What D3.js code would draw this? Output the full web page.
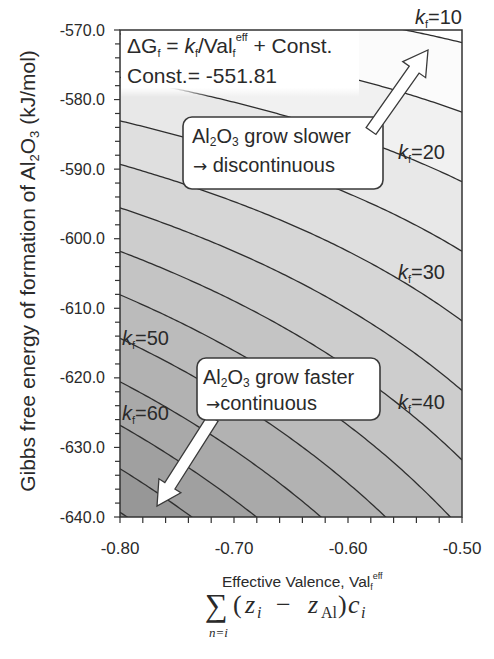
<!DOCTYPE html>
<html><head><meta charset="utf-8">
<script src="https://cdn.jsdelivr.net/npm/d3@7"></script>
<style>
body{margin:0;background:#fff}
svg{display:block}
text{font-family:"Liberation Sans",Arial,Helvetica,sans-serif;fill:#2a2a2a}
.serif{font-family:"Liberation Serif","DejaVu Serif","Times New Roman",serif}
.arr{font-family:"DejaVu Sans",sans-serif}
</style>
</head><body>
<svg id="chart" width="494" height="659"></svg>
<script>
// ---------- data ----------
const xTickValues = [-0.80, -0.70, -0.60, -0.50];
const xTickLabels = ["-0.80", "-0.70", "-0.60", "-0.50"];
const yTickValues = [-570, -580, -590, -600, -610, -620, -630, -640];
const yTickLabels = ["-570.0", "-580.0", "-590.0", "-600.0", "-610.0", "-620.0", "-630.0", "-640.0"];
const formulaConst = -551.81;                       // Const. in ΔG = k/Val + Const.
const contourLevels = [10, 15, 20, 25, 30, 35, 40, 45, 50, 55, 60, 65, 70];
const labelLevels = [10, 20, 30, 40, 50, 60];
const xDomain = [-0.80, -0.50];
const yDomain = [-640, -570];

// ---------- layout ----------
const svg = d3.select("#chart");
const L = 120, R = 462, T = 30, B = 517;
const x = d3.scaleLinear().domain(xDomain).range([L, R]);
const y = d3.scaleLinear().domain(yDomain).range([B, T]);
const G = (k, v) => formulaConst + k / v;

const defs = svg.append("defs");
defs.append("clipPath").attr("id", "plotclip")
  .append("rect").attr("x", L).attr("y", T).attr("width", R - L).attr("height", B - T);
const fade = defs.append("linearGradient").attr("id", "fade")
  .attr("x1", 0).attr("y1", 0).attr("x2", 0).attr("y2", 1);
fade.append("stop").attr("offset", "0").attr("stop-color", "#fff").attr("stop-opacity", 1);
fade.append("stop").attr("offset", "0.86").attr("stop-color", "#fff").attr("stop-opacity", 1);
fade.append("stop").attr("offset", "1").attr("stop-color", "#fff").attr("stop-opacity", 0);

const plot = svg.append("g").attr("clip-path", "url(#plotclip)");
const grid = d3.range(xDomain[0], xDomain[1] + 0.0001, 0.0025);

// bands
const edges = [0, ...contourLevels, 400];
const gray = d3.scaleLinear().domain([5, 12.5, 17.5, 72]).range(["#ffffff", "#fbfbfb", "#f1f1f1", "#8f8f8f"]);
for (let i = 0; i < edges.length - 1; i++) {
  const lo = edges[i], hi = edges[i + 1];
  const mid = i === 0 ? 5 : (i === edges.length - 2 ? 72 : (lo + hi) / 2);
  plot.append("path").datum(grid)
    .attr("d", d3.area().x(v => x(v)).y0(v => y(G(lo, v))).y1(v => y(G(hi, v))))
    .attr("fill", gray(mid)).attr("stroke", "none");
}
// contour lines
const line = k => d3.line().x(v => x(v)).y(v => y(G(k, v)));
contourLevels.forEach(k => {
  plot.append("path").datum(grid).attr("d", line(k))
    .attr("fill", "none").attr("stroke", "#2e2e2e").attr("stroke-width", 1.3);
});

// white area behind formula
plot.append("rect").attr("x", L + 1).attr("y", T + 1).attr("width", 238).attr("height", 66)
  .attr("fill", "url(#fade)");

// ---------- axes ----------
const axisColor = "#333";
const yMinor = d3.range(-640, -569, 2);
const xMinor = d3.range(0, 16).map(i => -0.80 + i * 0.02);
const ax = svg.append("g");
yMinor.forEach(v => {
  const major = Math.abs(v % 10) < 1e-6;
  ax.append("line").attr("x1", L - (major ? 6 : 5)).attr("x2", L).attr("y1", y(v)).attr("y2", y(v))
    .attr("stroke", axisColor).attr("stroke-width", 1.2);
});
xMinor.forEach(v => {
  ax.append("line").attr("x1", x(v)).attr("x2", x(v)).attr("y1", B).attr("y2", B + 6)
    .attr("stroke", axisColor).attr("stroke-width", 1.2);
});
ax.append("rect").attr("x", L).attr("y", T).attr("width", R - L).attr("height", B - T)
  .attr("fill", "none").attr("stroke", axisColor).attr("stroke-width", 1.5);

yTickValues.forEach((v, i) => {
  ax.append("text").attr("x", 105).attr("y", y(v)).attr("dy", "0.35em")
    .attr("text-anchor", "end").style("font-size", "16px").text(yTickLabels[i]);
});
xTickValues.forEach((v, i) => {
  ax.append("text").attr("x", x(v)).attr("y", 554)
    .attr("text-anchor", "middle").style("font-size", "17px").text(xTickLabels[i]);
});

// axis titles
const xt = svg.append("text").attr("x", 222).attr("y", 587).style("font-size", "15.5px");
xt.append("tspan").text("Effective Valence, Val");
xt.append("tspan").attr("dy", 3).style("font-size", "9px").text("f");
xt.append("tspan").attr("dy", -11).style("font-size", "9px").text("eff");

const yt = svg.append("text").attr("transform", "translate(35,271) rotate(-90)")
  .attr("text-anchor", "middle").style("font-size", "21px");
yt.append("tspan").text("Gibbs free energy of formation of Al");
yt.append("tspan").attr("dy", 4).style("font-size", "13px").text("2");
yt.append("tspan").attr("dy", -4).text("O");
yt.append("tspan").attr("dy", 4).style("font-size", "13px").text("3");
yt.append("tspan").attr("dy", -4).text(" (kJ/mol)");

// ---------- annotations ----------
const ann = svg.append("g");
// formula
const f1 = ann.append("text").attr("x", 127).attr("y", 53).style("font-size", "21px");
f1.append("tspan").text("ΔG");
f1.append("tspan").attr("dy", 4).style("font-size", "11px").text("f");
f1.append("tspan").attr("dy", -4).text(" = ");
f1.append("tspan").style("font-style", "italic").text("k");
f1.append("tspan").attr("dy", 4).style("font-size", "11px").text("f");
f1.append("tspan").attr("dy", -4).text("/Val");
f1.append("tspan").attr("dy", 4).style("font-size", "11px").text("f");
f1.append("tspan").attr("dy", -16).style("font-size", "11px").text("eff");
f1.append("tspan").attr("dy", 12).text(" + Const.");
ann.append("text").attr("x", 127).attr("y", 83).style("font-size", "21px").text("Const.= -551.81");

// contour labels
const labelPos = {10: [415, 24], 20: [398, 159], 30: [398, 279], 40: [398, 409], 50: [122, 345], 60: [122, 420]};
labelLevels.forEach(k => {
  const [lx, ly] = labelPos[k];
  const t = ann.append("text").attr("x", lx).attr("y", ly).style("font-size", "20px");
  t.append("tspan").style("font-style", "italic").text("k");
  t.append("tspan").attr("dy", 4).style("font-size", "11px").text("f");
  t.append("tspan").attr("dy", -4).text("=" + k);
});

// block arrows
function blockArrow(x0, y0, x1, y1, sw, hw, hl) {
  const len = Math.hypot(x1 - x0, y1 - y0), ux = (x1 - x0) / len, uy = (y1 - y0) / len;
  const nx = -uy, ny = ux;
  const bx = x1 - ux * hl, by = y1 - uy * hl;
  const p = [
    [x0 + nx * sw / 2, y0 + ny * sw / 2], [bx + nx * sw / 2, by + ny * sw / 2],
    [bx + nx * hw / 2, by + ny * hw / 2], [x1, y1],
    [bx - nx * hw / 2, by - ny * hw / 2], [bx - nx * sw / 2, by - ny * sw / 2],
    [x0 - nx * sw / 2, y0 - ny * sw / 2]];
  return "M" + p.map(d => d.join(",")).join("L") + "Z";
}
function box(x0, y0, w, h) {
  ann.append("rect").attr("x", x0).attr("y", y0).attr("width", w).attr("height", h)
    .attr("rx", 9).attr("fill", "#fff").attr("stroke", "#3a3a3a").attr("stroke-width", 1.6);
}
// lower arrow (behind box)
ann.append("path").attr("d", blockArrow(213, 418, 157, 506, 12, 26, 24))
  .attr("fill", "#fff").attr("stroke", "#3a3a3a").attr("stroke-width", 1.3);
box(197, 358, 183, 62);
box(183, 117, 200, 72);
// upper arrow (over box)
ann.append("path").attr("d", blockArrow(371, 131, 428, 50, 12, 28, 24))
  .attr("fill", "#fff").attr("stroke", "#3a3a3a").attr("stroke-width", 1.3);

function alText(x0, y0, rest) {
  const t = ann.append("text").attr("x", x0).attr("y", y0).style("font-size", "20px");
  t.append("tspan").text("Al");
  t.append("tspan").attr("dy", 3).style("font-size", "12px").text("2");
  t.append("tspan").attr("dy", -3).text("O");
  t.append("tspan").attr("dy", 3).style("font-size", "12px").text("3");
  t.append("tspan").attr("dy", -3).text(rest);
}
function arrowText(x0, y0, gap, rest) {
  const t = ann.append("text").attr("x", x0).attr("y", y0).style("font-size", "20px");
  t.append("tspan").attr("class", "arr").style("font-size", "17px").text("→" + gap);
  t.append("tspan").text(rest);
}
alText(192, 143, " grow slower");
arrowText(193, 172, " ", "discontinuous");
alText(203, 384, " grow faster");
arrowText(206, 410, "", "continuous");

// ---------- sum formula ----------
const sf = svg.append("g");
sf.append("text").attr("class", "serif").attr("x", 205).attr("y", 616).style("font-size", "32px").text("∑");
sf.append("text").attr("class", "serif").attr("x", 209).attr("y", 637)
  .style("font-size", "13px").style("font-style", "italic").text("n=i");
const ex = sf.append("text").attr("class", "serif").attr("y", 613).style("font-size", "26px");
const pieces = [
  {t: "(", px: 233, it: false, sub: false},
  {t: "z", px: 245, it: true, sub: false},
  {t: "i", px: 257, it: true, sub: true},
  {t: "−", px: 276, it: false, sub: false},
  {t: "z", px: 308, it: true, sub: false},
  {t: "Al", px: 321, it: false, sub: true},
  {t: ")", px: 338, it: false, sub: false},
  {t: "c", px: 348, it: true, sub: false},
  {t: "i", px: 361, it: true, sub: true}
];
pieces.forEach(p => {
  ex.append("tspan").attr("x", p.px).attr("y", p.sub ? 618 : 613)
    .style("font-size", p.sub ? "16px" : "26px")
    .style("font-style", p.it ? "italic" : "normal").text(p.t);
});
</script>
</body></html>
